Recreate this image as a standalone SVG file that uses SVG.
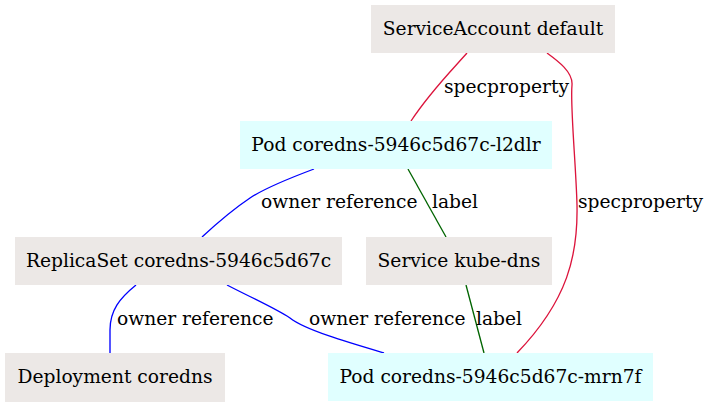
<svg xmlns="http://www.w3.org/2000/svg" width="709" height="407" viewBox="0 0 709 407">
<style>
text{font-family:"DejaVu Serif",serif;font-size:18.67px;fill:#000}
.n text{text-anchor:middle}
.g{fill:#ece8e6}
.c{fill:#e0ffff}
#edges path{fill:none;stroke-width:1.33}
.red{stroke:#dc143c}.blue{stroke:#0000ff}.green{stroke:#006400}
</style>
<rect width="709" height="407" fill="#fff"/>
<g id="edges">
<path class="red" d="M467,53 C452,70 430,92 411,121"/>
<path class="red" d="M547,53 C558,61 573,72 572,85 C570,105 576,165 577,205 C578,255 568,300 517,353"/>
<path class="blue" d="M314,169 C290,178 265,188 250,198 C232,210 215,225 202,237"/>
<path class="green" d="M408,169 L446,237"/>
<path class="blue" d="M136,285 C120,298 110,310 110,330 L110,353"/>
<path class="blue" d="M227,285 C250,297 275,308 290,318 C305,330 350,343 384,353"/>
<path class="green" d="M466,285 L484,353"/>
<text x="444" y="93">specproperty</text>
<text x="261" y="208">owner reference</text>
<text x="432" y="208">label</text>
<text x="578" y="208">specproperty</text>
<text x="117" y="325">owner reference</text>
<text x="309" y="325">owner reference</text>
<text x="476" y="325">label</text>
</g>
<g id="sa" class="n"><rect class="g" x="371" y="5" width="244" height="48"/><text x="493" y="35">ServiceAccount default</text></g>
<g id="pod1" class="n"><rect class="c" x="240" y="121" width="312" height="48"/><text x="396" y="151">Pod coredns-5946c5d67c-l2dlr</text></g>
<g id="rs" class="n"><rect class="g" x="15" y="237" width="327" height="48"/><text x="178.5" y="267">ReplicaSet coredns-5946c5d67c</text></g>
<g id="svc" class="n"><rect class="g" x="366" y="237" width="186" height="48"/><text x="459" y="267">Service kube-dns</text></g>
<g id="dep" class="n"><rect class="g" x="5" y="353" width="220" height="49"/><text x="115" y="383">Deployment coredns</text></g>
<g id="pod2" class="n"><rect class="c" x="328" y="353" width="325" height="48"/><text x="490.5" y="383">Pod coredns-5946c5d67c-mrn7f</text></g>
</svg>
